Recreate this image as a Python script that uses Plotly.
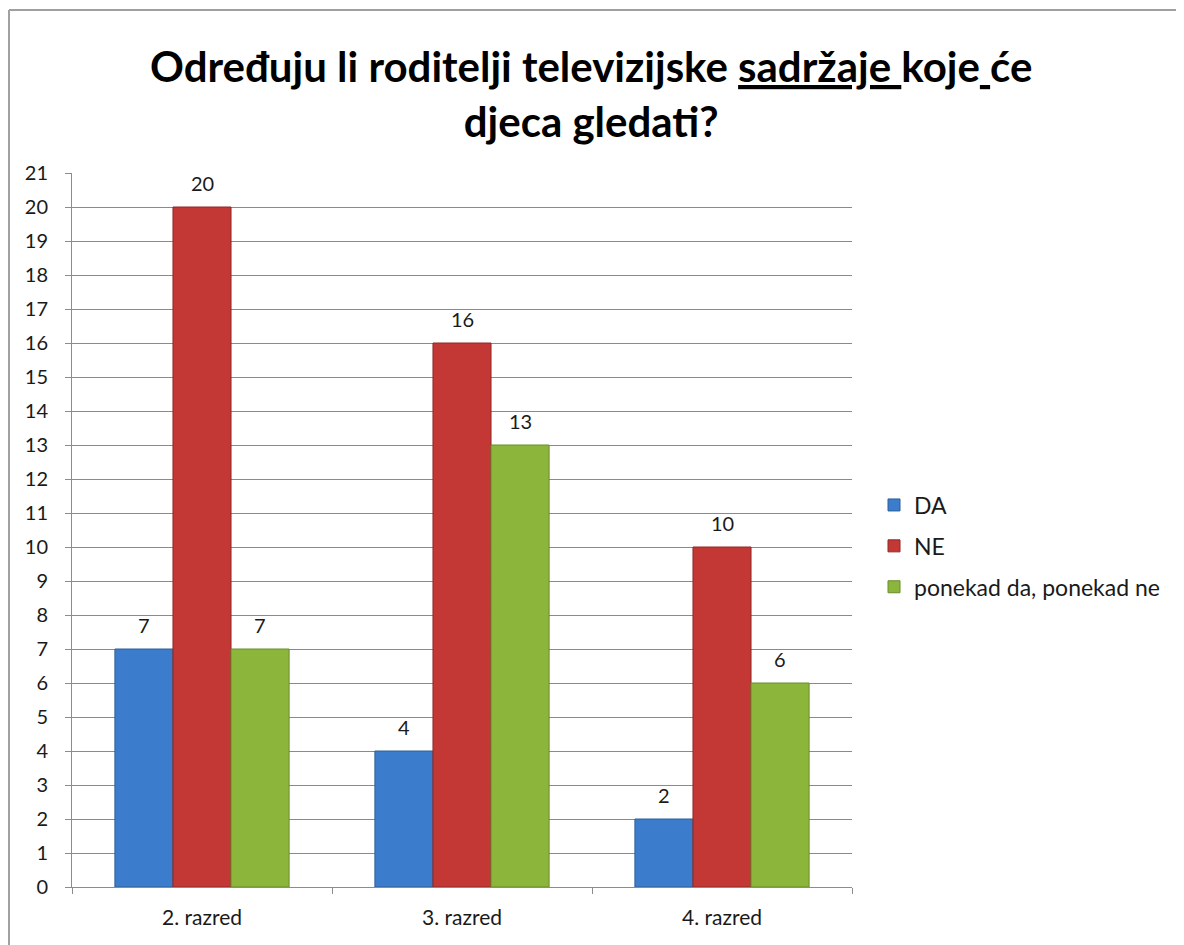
import plotly.graph_objects as go

categories = ["2. razred", "3. razred", "4. razred"]
da = [7, 4, 2]
ne = [20, 16, 10]
ponekad = [7, 13, 6]
series_names = ["DA", "NE", "ponekad da, ponekad ne"]
colors = ["#3B7DCC", "#C33835", "#8BB63B"]
line_colors = ["#2E5F96", "#8E2826", "#6A8C2A"]

# figure is placed at an 8px page offset by the html body margin
W, H = 1176, 937
L, R, T, B = 64, 332, 165, 58
pw, ph = W - L - R, H - T - B
BARGAP = 0.33

def px_x(p):
    return (p - L) / pw

def px_y(p):
    return (H - B - p) / ph

fig = go.Figure()
all_vals = [da, ne, ponekad]
for name, vals, c, lc in zip(series_names, all_vals, colors, line_colors):
    fig.add_trace(go.Bar(
        x=categories, y=vals, name=name,
        marker=dict(color=c, line=dict(color=lc, width=1)),
        legendgroup=name,
    ))

# value labels above bars
cat_px = pw / len(categories)
bar_px = cat_px * (1 - BARGAP) / len(series_names)
for i, vals in enumerate(all_vals):
    shift = (i - (len(series_names) - 1) / 2) * bar_px
    for cat, v in zip(categories, vals):
        fig.add_annotation(
            x=cat, y=v, xref="x", yref="y", text=str(v), showarrow=False,
            xshift=shift, yshift=24, yanchor="middle",
            font=dict(family="Lato", size=20, color="#1A1A1A"),
        )

fig.add_annotation(
    text="<b>Određuju li roditelji televizijske <u>sadržaje </u>koje<u> </u>će<br>djeca gledati?</b>",
    xref="paper", yref="paper", x=px_x(583), y=px_y(86),
    xanchor="center", yanchor="middle", showarrow=False, align="center",
    font=dict(family="Lato", size=42, color="#000000"),
)

fig.update_layout(
    width=W, height=H,
    margin=dict(l=L, r=R, t=T, b=B, autoexpand=False),
    paper_bgcolor="white", plot_bgcolor="white",
    barmode="group", bargap=BARGAP, bargroupgap=0,
    font=dict(family="Lato", size=20, color="#1A1A1A"),
    xaxis=dict(
        showline=True, linecolor="#8C8C8C", linewidth=1,
        ticks="outside", tickson="boundaries", ticklen=6, tickcolor="#8C8C8C",
        tickfont=dict(family="Lato", size=21, color="#1A1A1A"),
        ticklabelstandoff=12,
        showgrid=False,
    ),
    yaxis=dict(
        range=[0, 21], dtick=1, tick0=0,
        showline=True, linecolor="#8C8C8C", linewidth=1,
        ticks="outside", ticklen=6, tickcolor="#8C8C8C",
        showgrid=True, gridcolor="#8A8A8A", gridwidth=1,
        tickfont=dict(family="Lato", size=20, color="#1A1A1A"),
        ticklabelstandoff=13,
        zeroline=False,
    ),
    legend=dict(
        x=px_x(866), y=px_y(538), xanchor="left", yanchor="middle",
        font=dict(family="Lato", size=23, color="#1A1A1A"),
        tracegroupgap=8, itemwidth=30,
        bgcolor="rgba(0,0,0,0)",
    ),
    showlegend=True,
)

# outer chart border (top and left edges visible)
fig.add_shape(type="line", xref="paper", yref="paper",
              x0=px_x(1), x1=px_x(W + 10), y0=px_y(2), y1=px_y(2),
              line=dict(color="#A0A0A0", width=2))
fig.add_shape(type="line", xref="paper", yref="paper",
              x0=px_x(1), x1=px_x(1), y0=px_y(2), y1=px_y(H + 10),
              line=dict(color="#A0A0A0", width=2))

fig.write_html("out.html")
